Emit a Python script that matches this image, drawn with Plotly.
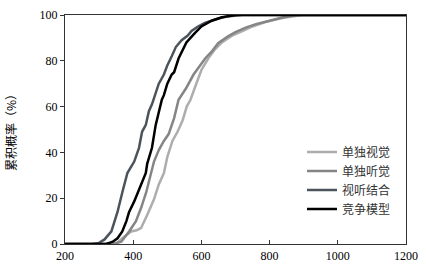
import plotly.graph_objects as go

# ---- data ----
series_names = ["单独视觉", "单独听觉", "视听结合", "竞争模型"]

visual_x = [200, 350, 368, 394, 410, 423, 441, 461, 475, 490, 500, 515, 530, 545, 557, 568, 585, 600, 620, 640, 660, 690, 720, 750, 790, 830, 870, 900, 1200]
visual_y = [0, 0, 2.5, 5.5, 6, 7, 12.7, 19.5, 26, 31, 38, 45, 49, 54, 60, 63, 70, 76, 81, 85, 88, 91, 93, 95, 97, 98.5, 99.5, 100, 100]

audio_x = [200, 340, 365, 388, 408, 423, 438, 452, 461, 475, 490, 504, 520, 533, 555, 577, 595, 611, 630, 649, 678, 700, 730, 760, 800, 840, 880, 1200]
audio_y = [0, 0, 1, 5.5, 10, 15.7, 22.5, 31, 36, 41, 45, 48, 55, 63, 68, 74, 78, 81, 84, 87.7, 90.7, 92.5, 94.5, 96, 97.5, 99, 100, 100]

av_x = [200, 280, 300, 316, 336, 354, 368, 383, 395, 403, 417, 426, 437, 446, 455, 461, 475, 490, 500, 513, 525, 542, 560, 571, 590, 610, 630, 650, 680, 720, 1200]
av_y = [0, 0, 0.5, 2, 5.5, 14, 22.5, 31, 34, 36, 42, 49, 52, 58, 61, 64, 70, 74, 78, 82, 86, 89, 91, 93, 95, 96.5, 97.5, 98.5, 99.5, 100, 100]

model_x = [200, 320, 330, 340, 354, 368, 380, 388, 403, 423, 437, 441, 455, 466, 476, 484, 490, 500, 513, 520, 533, 556, 580, 600, 630, 660, 700, 1200]
model_y = [0, 0, 0.5, 1, 2.5, 5.5, 10, 14, 18.6, 26, 31, 35, 42, 52, 58, 63, 65, 70, 74, 75, 81, 88, 92, 95, 97.5, 99, 100, 100]

x_ticks = [200, 400, 600, 800, 1000, 1200]
y_ticks = [0, 20, 40, 60, 80, 100]

colors = ["#adadad", "#858585", "#4b545d", "#000000"]

fig = go.Figure()
for name, xs, ys, c in zip(series_names,
                           [visual_x, audio_x, av_x, model_x],
                           [visual_y, audio_y, av_y, model_y],
                           colors):
    fig.add_trace(go.Scatter(x=xs, y=ys, mode="lines", name=name,
                             line=dict(color=c, width=2.5)))

serif = "Times New Roman, Liberation Serif, serif"
cjk = "Noto Sans CJK SC"
fig.update_layout(
    width=426, height=275,
    margin=dict(l=65, r=15, t=8, b=31),
    paper_bgcolor="white", plot_bgcolor="white",
    font=dict(family=serif, size=12, color="black"),
    showlegend=True,
    legend=dict(x=0.695, y=0.465, xanchor="left", yanchor="top",
                bgcolor="rgba(0,0,0,0)", font=dict(size=12, family=cjk, color="#333333"),
                tracegroupgap=0, itemwidth=30),
    xaxis=dict(range=[200, 1200], tickvals=x_ticks, ticktext=[str(v) for v in x_ticks],
               tickfont=dict(family=serif, size=12),
               showgrid=False, zeroline=False, showline=True, linecolor="#333333", linewidth=1.2,
               mirror=True, ticks="inside", ticklen=4, tickcolor="#333333"),
    yaxis=dict(range=[0, 100], tickvals=y_ticks, ticktext=[str(v) for v in y_ticks],
               tickfont=dict(family=serif, size=12),
               showgrid=False, zeroline=False, showline=True, linecolor="#333333", linewidth=1.2,
               mirror=True, ticks="outside", ticklen=4, tickcolor="#333333",
               title=dict(text="累积概率（%）", font=dict(size=12, family=cjk, color="black"), standoff=20)),
)

fig.write_html("out.html", config={"displayModeBar": False},
               post_script="document.body.style.margin='0';")
